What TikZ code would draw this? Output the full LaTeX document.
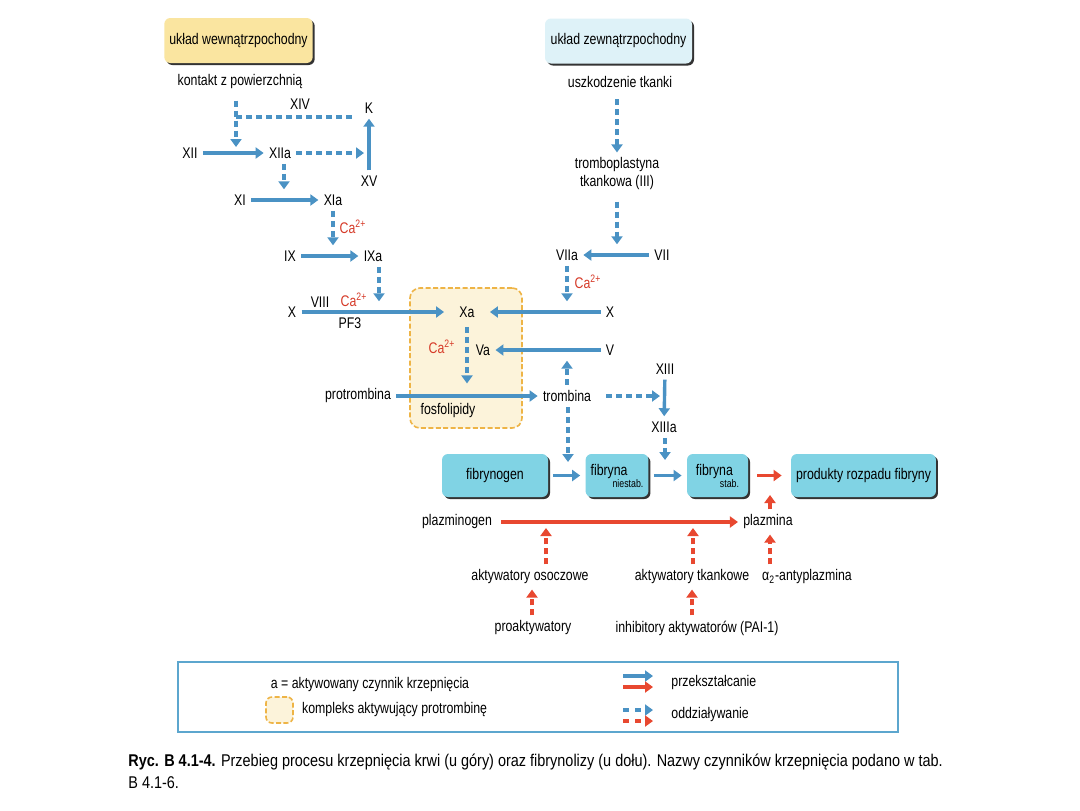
\documentclass[tikz,border=0pt]{standalone}
\usepackage{fontspec}
\setmainfont{Liberation Sans}[FakeStretch=0.8]
\newfontfamily\capfont{Liberation Sans}[FakeStretch=0.85]
\usepackage{xcolor}
\usepackage{tikz}
\usetikzlibrary{arrows.meta,positioning,shadows}

\definecolor{arrblue}{RGB}{74,146,196}
\definecolor{arrred}{RGB}{232,72,48}
\definecolor{cared}{RGB}{214,58,40}
\definecolor{fibcyan}{RGB}{128,211,228}
\definecolor{intyellow}{RGB}{250,229,160}
\definecolor{extblue}{RGB}{222,242,248}
\definecolor{cplxfill}{RGB}{252,243,218}
\definecolor{cplxdraw}{RGB}{238,180,70}
\definecolor{legblue}{RGB}{92,166,206}

\newcommand{\diagfont}{\fontsize{7.7pt}{9pt}\selectfont}
\newcommand{\smallfont}{\fontsize{5.5pt}{6pt}\selectfont}
\newcommand{\caion}{\textcolor{cared}{Ca\textsuperscript{2+}}}

\begin{document}
\begin{tikzpicture}[
    x=0.5pt,
    y=-0.5pt,
    every node/.style={font=\diagfont, inner sep=2.5pt},
    conv/.style={draw=arrblue, line width=1.7pt, -{Triangle[length=4pt,width=5.5pt]}},
    act/.style={conv, dash pattern=on 3pt off 2pt},
    actline/.style={draw=arrblue, line width=1.7pt, dash pattern=on 3pt off 2pt},
    conr/.style={conv, draw=arrred},
    actr/.style={act, draw=arrred},
    box/.style={rounded corners=3pt, fill=fibcyan, minimum height=21.5pt,
        drop shadow={shadow xshift=1pt, shadow yshift=-1pt, fill=black!80, opacity=1}},
    head/.style={box, minimum height=22.5pt, minimum width=73.5pt},
    cplx/.style={draw=cplxdraw, fill=cplxfill, line width=0.8pt, rounded corners=5pt, dash pattern=on 2.5pt off 1.2pt}
]
\useasboundingbox[fill=white] (0,0) rectangle (1080,810);

% prothrombin activating complex (behind everything)
\node[cplx, minimum width=56pt, minimum height=70pt] (complex) at (466,358) {};

% headers
\node[head, fill=intyellow] (intr) at (238.5,40.5) {układ wewnątrzpochodny};
\node[head, fill=extblue] (extr) at (618.5,41) {układ zewnątrzpochodny};

% intrinsic pathway
\node (contact) at (240,82) {kontakt z powierzchnią};
\node (f14) at (300,104) {XIV};
\node (fK) at (369,108) {K};
\node (f12) at (190,153) {XII};
\node (f12a) at (280,153) {XIIa};
\node (f15) at (369,181) {XV};
\node (f11) at (240,200) {XI};
\node (f11a) at (333,200) {XIa};
\node (ca1) at (353,227) {\caion};
\node (f9) at (290,256) {IX};
\node (f9a) at (373,256) {IXa};
\node (f10l) at (292,312) {X};
\node (f8) at (320,302) {VIII};
\node (ca2) at (354,300) {\caion};
\node (pf3) at (350,323) {PF3};
\node (f10a) at (467,312) {Xa};
\node (ca3) at (442,347) {\caion};
\node (f5a) at (483,350) {Va};
\node (prot) at (358,396) {protrombina};
\node (fosf) at (448,411) {fosfolipidy};
\node (tromb) at (567,396) {trombina};

% extrinsic pathway
\node (injury) at (620,82) {uszkodzenie tkanki};
\node[align=center] (tissue) at (617,174) {tromboplastyna\\tkankowa (III)};
\node (f7a) at (567,255) {VIIa};
\node (f7) at (662,255) {VII};
\node (ca4) at (588,282) {\caion};
\node (f10r) at (610,312) {X};
\node (f5) at (610,350) {V};
\node (f13) at (665,369) {XIII};
\node (f13a) at (664,427) {XIIIa};

% fibrin boxes
\node[box, minimum width=53pt] (fgen) at (495,475.5) {fibrynogen};
\node[box, minimum width=30pt, align=left] (fib1) at (617,475.5) {fibryna\\[-3pt]\hspace*{11pt}\smallfont niestab.};
\node[box, minimum width=30.5pt, align=left] (fib2) at (717.5,475.5) {fibryna\\[-3pt]\hspace*{12pt}\smallfont stab.};
\node[box, minimum width=71.5pt] (prod) at (863.5,475.5) {produkty rozpadu fibryny};

% fibrinolysis
\node (plg) at (457,522) {plazminogen};
\node (plm) at (768,522) {plazmina};
\node (plact) at (530,577) {aktywatory osoczowe};
\node (tiact) at (692,577) {aktywatory tkankowe};
\node (antipl) at (807,577) {α\textsubscript{2}-antyplazmina};
\node (proact) at (533,628) {proaktywatory};
\node (pai) at (697,628) {inhibitory aktywatorów (PAI-1)};

% intrinsic connectors
\coordinate (kz) at (236,147);
\coordinate (kbr) at (236,117);
\draw[act, shorten <=3pt] (contact.south -| kz) -- (kz);
\draw[actline, shorten >=2pt] (kbr) -- (kbr -| fK.west);
\draw[conv] (f12) -- (f12a);
\draw[act, shorten >=2.5pt] (f12a) -- (f12a -| f15);
\draw[conv] (f15) -- (fK);
\draw[act] ([xshift=2pt]f12a.south) -- ([xshift=2pt]f12a.south |- f11.north);
\draw[conv] (f11) -- (f11a);
\draw[act] (f11a.south) -- (f11a.south |- f9.north);
\draw[conv] (f9) -- (f9a);
\draw[act] ([xshift=3pt]f9a.south) -- ([xshift=3pt]f9a.south |- f10l.north);
\draw[conv, shorten >=5pt] (f10l) -- (f10a);
\draw[conv, shorten >=5pt] (f10r) -- (f10a);
\draw[act, shorten <=2pt] (f10a.south) -- (f10a.south |- prot.north);
\draw[conv] (f5) -- (f5a);
\draw[conv] (prot) -- (tromb);
\draw[act] (tromb.north) -- (tromb.north |- f5.south);

% extrinsic connectors
\draw[act, shorten <=3pt] ([xshift=-1.5pt]injury.south) -- ([xshift=-1.5pt]injury.south |- tissue.north);
\draw[act, shorten <=3pt] (tissue.south) -- (tissue.south |- f7.north);
\draw[conv] (f7) -- (f7a);
\draw[act] (f7a.south) -- (f7a.south |- f10r.north);
\draw[act, shorten <=5pt, shorten >=2.5pt] (tromb) -- (tromb -| f13);
\draw[conv] (f13) -- (f13a);

% fibrin connectors
\coordinate (thtip) at (568,462);
\coordinate (f13tip) at (665,460);
\draw[act] (tromb.south -| thtip) -- (thtip);
\draw[act] (f13a.south -| f13tip) -- (f13tip);
\draw[conv, shorten <=2.5pt, shorten >=2.5pt] (fgen) -- (fib1);
\draw[conv, shorten <=2.5pt, shorten >=2.5pt] (fib1) -- (fib2);
\draw[conr, shorten <=4.5pt, shorten >=4.5pt] (fib2) -- (prod);

% fibrinolysis connectors
\coordinate (plmtip) at (770,495);
\coordinate (platip) at (546,528);
\coordinate (tiatip) at (693,528);
\coordinate (proline) at (532,0);
\coordinate (pailine) at (692,0);
\draw[conr, shorten <=2pt] (plg) -- (plm);
\draw[actr] (plm.north -| plmtip) -- (plmtip);
\draw[actr] (plact.north -| platip) -- (platip);
\draw[actr] (tiact.north -| tiatip) -- (tiatip);
\draw[actr] (antipl.north -| plmtip) -- (plm.south -| plmtip);
\draw[actr] (proact.north -| proline) -- (plact.south -| proline);
\draw[actr] (pai.north -| pailine) -- (tiact.south -| pailine);

% legend
\node[draw=legblue, line width=1pt, minimum width=360pt, minimum height=35pt] (legend) at (538,697) {};
\node (legA) at (370,685) {a = aktywowany czynnik krzepnięcia};
\node[cplx, minimum width=13.5pt, minimum height=13pt, rounded corners=3pt] (legcplx) at (279.5,710) {};
\node[right=1.5pt of legcplx] (legcplxtxt) {kompleks aktywujący protrombinę};
\coordinate (lb1) at (623,676); \coordinate (lb2) at (653,676);
\coordinate (lr1) at (623,687); \coordinate (lr2) at (653,687);
\coordinate (ldb1) at (623,710); \coordinate (ldb2) at (653,710);
\coordinate (ldr1) at (623,721); \coordinate (ldr2) at (653,721);
\draw[conv] (lb1) -- (lb2);
\draw[conr] (lr1) -- (lr2);
\draw[act, dash pattern=on 3pt off 3pt] (ldb1) -- (ldb2);
\draw[actr, dash pattern=on 3pt off 3pt] (ldr1) -- (ldr2);
\node[anchor=west] (legconv) at (666,682) {przekształcanie};
\node[anchor=west] (legact) at (666,715) {oddziaływanie};

% caption
\node[anchor=north west, align=left, inner sep=0pt, font=\capfont\fontsize{8.5pt}{11pt}\selectfont] (caption) at (128,754)
  {\textbf{Ryc. B 4.1-4.} Przebieg procesu krzepnięcia krwi (u góry) oraz fibrynolizy (u dołu). Nazwy czynników krzepnięcia podano w tab.\\B 4.1-6.};
\end{tikzpicture}
\end{document}
